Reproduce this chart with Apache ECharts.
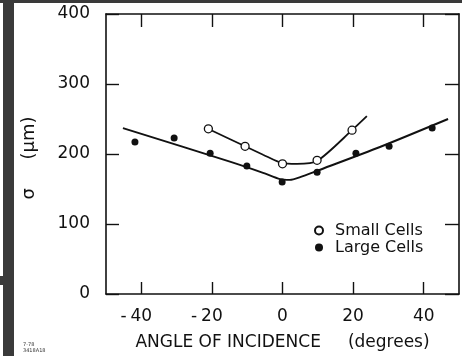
<!DOCTYPE html>
<html>
<head>
<meta charset="utf-8">
<script src="https://cdn.jsdelivr.net/npm/echarts@6/dist/echarts.min.js"></script>
<style>
  html, body { margin: 0; padding: 0; background: #fff; }
  #chart { width: 462px; height: 356px; }
</style>
</head>
<body>
<div id="chart"></div>
<script>
// angle of incidence (degrees) vs sigma (um)
var xTicks = [-40, -20, 0, 20, 40];

var smallCells = [[-21, 236], [-10.6, 211], [0, 186], [9.8, 191], [19.7, 234]];
var largeCells = [[-41.8, 217], [-30.7, 223], [-20.5, 201], [-10.1, 183], [-0.1, 160],
                  [9.8, 174], [20.8, 201], [30.2, 211], [42.4, 237]];

// hand drawn fit curves
var smallFit = [[-21.1, 236], [-10.6, 211], [-5.5, 199], [-0.1, 187], [4.1, 186],
                [9.8, 190], [19.7, 234], [23.9, 254]];
var largeFit = [[-45.2, 237], [-14.9, 189], [-5.5, 173], [-0.7, 164], [2.1, 163],
                [5.0, 167], [9.8, 176], [27.6, 210], [46.9, 250]];

var ink = '#111';
var font = 'DejaVu Sans';

var chart = echarts.init(document.getElementById('chart'), null, { renderer: 'canvas' });

var frameAxis = {
  axisLine: { show: true, onZero: false, lineStyle: { color: ink, width: 1.6 } },
  splitLine: { show: false }
};

var options = {
  backgroundColor: '#fff',
  animation: false,
  grid: { left: 106, right: 3, top: 14, bottom: 62 },
  legend: {
    orient: 'vertical',
    left: 314,
    top: 222,
    padding: 0,
    itemGap: 0,
    itemWidth: 8,
    itemHeight: 8,
    data: ['Small Cells', 'Large Cells'],
    textStyle: { color: ink, fontFamily: font, fontSize: 16, lineHeight: 17, padding: [0, 0, 0, 7] }
  },
  xAxis: [
    Object.assign({
      type: 'value',
      position: 'bottom',
      min: -50,
      max: 50,
      name: 'ANGLE OF INCIDENCE     (degrees)',
      nameLocation: 'middle',
      nameGap: 40,
      nameTextStyle: { color: ink, fontFamily: font, fontSize: 17 },
      axisTick: { show: true, inside: true, length: 12, customValues: xTicks, lineStyle: { color: ink, width: 1.4 } },
      axisLabel: {
        customValues: xTicks,
        margin: 14,
        color: ink,
        fontFamily: font,
        fontSize: 17,
        formatter: function (v) {
          if (v < 0) return '{m|-}' + Math.abs(v) + '{p| }';
          return String(v);
        },
        rich: {
          m: { width: 14, align: 'center', fontFamily: font, fontSize: 17, color: ink },
          p: { width: 14, fontFamily: font, fontSize: 17 }
        }
      }
    }, frameAxis),
    Object.assign({
      type: 'value',
      position: 'top',
      min: -50,
      max: 50,
      axisTick: { show: true, inside: true, length: 13, customValues: xTicks, lineStyle: { color: ink, width: 1.4 } },
      axisLabel: { show: false }
    }, frameAxis)
  ],
  yAxis: [
    Object.assign({
      type: 'value',
      position: 'left',
      min: 0,
      max: 400,
      interval: 100,
      name: 'σ     (μm)',
      nameLocation: 'middle',
      nameRotate: 90,
      nameGap: 68,
      nameTextStyle: { color: ink, fontFamily: font, fontSize: 18, padding: [0, 8, 0, 0] },
      axisTick: { show: true, inside: true, length: 13, lineStyle: { color: ink, width: 1.4 } },
      axisLabel: { margin: 16, color: ink, fontFamily: font, fontSize: 17 }
    }, frameAxis),
    Object.assign({
      type: 'value',
      position: 'right',
      min: 0,
      max: 400,
      interval: 100,
      axisTick: { show: true, inside: true, length: 14, lineStyle: { color: ink, width: 1.4 } },
      axisLabel: { show: false }
    }, frameAxis)
  ],
  series: [
    {
      name: 'small fit',
      type: 'line',
      data: smallFit,
      smooth: 0.25,
      showSymbol: false,
      silent: true,
      lineStyle: { color: ink, width: 1.8 },
      z: 2
    },
    {
      name: 'large fit',
      type: 'line',
      data: largeFit,
      smooth: 0.25,
      showSymbol: false,
      silent: true,
      lineStyle: { color: ink, width: 1.9 },
      z: 2
    },
    {
      name: 'Small Cells',
      type: 'scatter',
      data: smallCells,
      symbol: 'circle',
      symbolSize: 8,
      itemStyle: { color: '#fff', borderColor: ink, borderWidth: 1.3, opacity: 1 },
      z: 3
    },
    {
      name: 'Large Cells',
      type: 'scatter',
      data: largeCells,
      symbol: 'circle',
      symbolSize: 7,
      itemStyle: { color: ink, opacity: 1 },
      z: 3
    }
  ],
  // scan edges and the figure id in the corner
  graphic: [
    { type: 'rect', shape: { x: 3, y: 0, width: 11, height: 356 }, style: { fill: '#3a3a3a' }, silent: true },
    { type: 'rect', shape: { x: 0, y: 276, width: 4, height: 9 }, style: { fill: '#3a3a3a' }, silent: true },
    { type: 'rect', shape: { x: 0, y: 0, width: 462, height: 3 }, style: { fill: '#3a3a3a' }, silent: true },
    { type: 'text', left: 23, top: 342, style: { text: '7-78', fontFamily: font, fontSize: 5, fill: '#333' } },
    { type: 'text', left: 23, top: 348, style: { text: '3418A18', fontFamily: font, fontSize: 5, fill: '#333' } }
  ]
};

chart.setOption(options);
</script>
</body>
</html>
